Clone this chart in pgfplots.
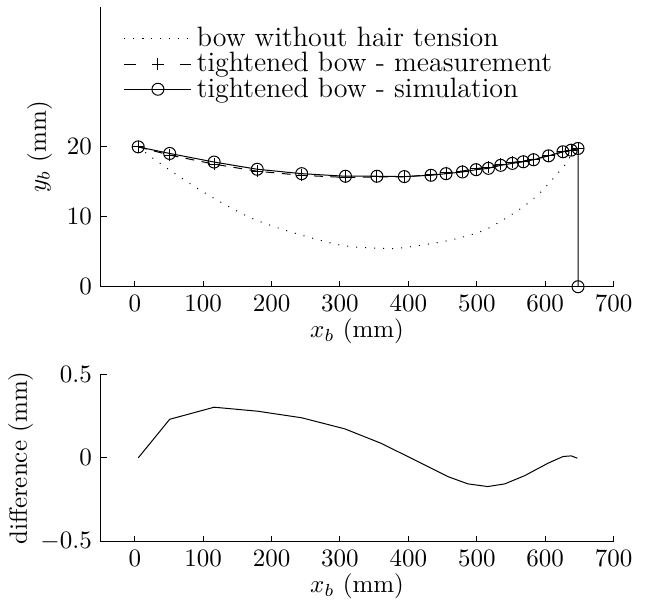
\documentclass[border=0pt]{standalone}
\usepackage{pgfplots}
\pgfplotsset{compat=1.18}

\pgfplotsset{
  bowaxis/.style={
    scale only axis,
    width=205.2pt,
    xmin=-50, xmax=700,
    xtick={0,100,...,700},
    axis x line*=bottom,
    axis y line*=left,
    tick align=inside,
    major tick length=2.4pt,
    tick style={line width=0.4pt,black},
    axis line style={line width=0.4pt,black},
    xlabel={$x_b$ (mm)},
    xlabel style={yshift=4pt},
  },
}

\begin{document}
\begin{tikzpicture}
\begin{axis}[bowaxis, name=top,
  height=111.9pt,
  ymin=0, ymax=40,
  ytick={0,10,20},
  ylabel={$y_b$ (mm)},
  ylabel shift=-1pt,
  clip=false,
  legend style={draw=none, fill=none, at={(0.03,0.965)}, anchor=north west,
    font=\fontsize{11.2}{12}\selectfont, row sep=-3.2pt,
    nodes={inner xsep=2pt}},
  legend cell align=left,
  legend image code/.code={%
    \draw[mark repeat=2,mark phase=2] plot coordinates {(0cm,0cm) (0.47cm,0cm) (0.94cm,0cm)};},
]
% bow without hair tension
\addplot[black, line width=0.4pt, dash pattern=on 0.4pt off 3.2pt, smooth, mark=none] coordinates {
(5,20.0) (29,18.2) (75,15.1) (122,12.3) (173,9.7) (236,7.6) (304,5.9) (360,5.5)
(390,5.55) (458,6.6) (511,8.1) (560,10.9) (590,13.2) (611,15.4) (631,17.7) (641,19.4) (648,20.0)
};
\addlegendentry{bow without hair tension}
% tightened bow - measurement
\addplot[black, line width=0.4pt, dash pattern=on 3.5pt off 3pt, mark=+, mark size=2.4pt,
  mark options={solid},
  legend image post style={dash pattern=on 4.5pt off 17.7pt}] coordinates {
(5,20.00) (51,18.83) (116,17.53) (179,16.52) (244,15.93) (308,15.63) (354,15.70)
(394,15.73) (433,16.00) (455,16.27) (479,16.55) (499,16.90) (517,17.10) (535,17.52)
(552,17.78) (568,17.98) (583,18.24) (605,18.75) (626,19.29) (638,19.52) (648,19.77)
};
\addlegendentry{tightened bow - measurement}
% tightened bow - simulation
\addplot[black, line width=0.4pt, mark=o, mark size=2.4pt] coordinates {
(5,20.00) (51,19.06) (116,17.83) (179,16.80) (244,16.17) (308,15.80) (354,15.80)
(394,15.75) (433,15.94) (455,16.17) (479,16.41) (499,16.74) (517,16.93) (535,17.36)
(552,17.64) (568,17.87) (583,18.16) (605,18.72) (626,19.30) (638,19.53) (648,19.77)
(648,0)
};
\addlegendentry{tightened bow - simulation}
\end{axis}

\begin{axis}[bowaxis, name=bottom,
  at={(top.south west)}, anchor=north west, yshift=-34.9pt,
  height=67.1pt,
  ymin=-0.5, ymax=0.5,
  ytick={-0.5,0,0.5},
  ylabel={difference (mm)},
  ylabel shift=-4pt,
]
\addplot[black, line width=0.4pt, mark=none] coordinates {
(5,0.00) (51,0.23) (116,0.302) (180,0.278) (244,0.239) (307,0.173) (360,0.087)
(409,-0.012) (458,-0.112) (487,-0.155) (516,-0.171) (541,-0.155) (570,-0.106)
(604,-0.032) (626,0.008) (638,0.012) (647,-0.002)
};
\end{axis}
\pgfresetboundingbox
\path ([xshift=-40.24pt,yshift=2.8pt]top.north west) rectangle ([xshift=218.96pt,yshift=-23.72pt]bottom.south west);
\end{tikzpicture}
\end{document}
